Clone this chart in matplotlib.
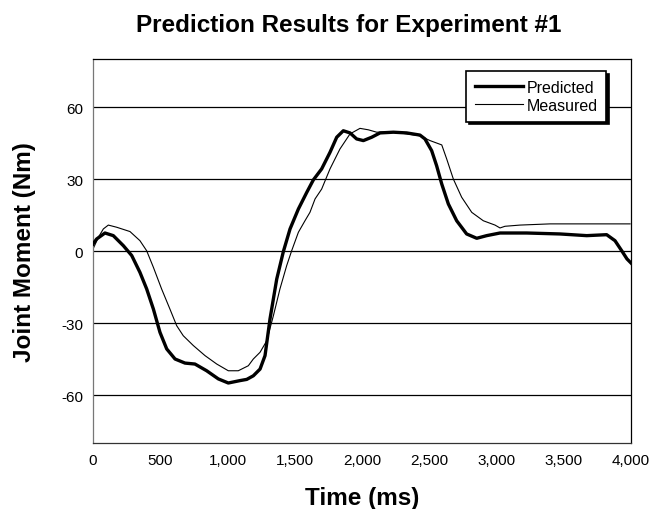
import matplotlib.pyplot as plt

# values
pred_t = [0, 27, 89, 151, 226, 288, 349, 399, 449, 498, 548, 610, 684, 758, 845,
          932, 1006, 1093, 1143, 1192, 1242, 1279, 1316, 1366, 1415, 1465, 1527,
          1589, 1638, 1700, 1762, 1812, 1861, 1911, 1960, 2010, 2072, 2134, 2233,
          2332, 2431, 2468, 2518, 2555, 2593, 2642, 2704, 2778, 2853, 2927, 3026,
          3224, 3472, 3671, 3819, 3881, 3931, 3970, 4000]
pred_v = [2.9, 5.0, 7.5, 6.4, 2.2, -1.9, -8.9, -15.8, -24.2, -33.9, -40.8, -45.0,
          -46.7, -47.1, -49.9, -53.3, -55.0, -54.0, -53.5, -52.0, -49.2, -43.6,
          -28.3, -11.7, -0.3, 9.2, 17.5, 24.4, 29.6, 34.2, 41.1, 47.4, 50.1, 49.2,
          46.7, 46.0, 47.4, 49.2, 49.5, 49.2, 48.3, 46.7, 41.8, 35.5, 27.9, 19.6,
          12.6, 7.1, 5.3, 6.4, 7.5, 7.5, 7.1, 6.4, 6.8, 4.3, 0.1, -3.3, -5.0]

meas_t = [0, 40, 77, 114, 176, 275, 349, 399, 449, 510, 572, 622, 671, 746, 833,
          920, 1006, 1080, 1155, 1192, 1242, 1291, 1341, 1390, 1440, 1477, 1527,
          1576, 1613, 1651, 1700, 1762, 1836, 1911, 1985, 2047, 2109, 2208, 2283,
          2431, 2506, 2593, 2630, 2679, 2741, 2816, 2902, 2989, 3026, 3063, 3175,
          3398, 3993]
meas_v = [0.8, 5.7, 9.2, 10.8, 9.9, 8.1, 4.3, 0.1, -6.8, -15.8, -24.2, -31.1,
          -35.3, -39.4, -43.6, -47.1, -49.9, -49.9, -47.8, -45.0, -42.2, -37.5,
          -27.0, -15.8, -6.1, 0.1, 7.8, 12.6, 16.1, 21.7, 25.8, 34.2, 42.5, 48.8,
          51.1, 50.5, 49.5, 49.7, 49.2, 48.0, 46.0, 44.2, 38.3, 30.0, 22.4, 16.1,
          12.6, 10.8, 9.6, 10.3, 10.8, 11.3, 11.3]

y_ticks = [-60, -30, 0, 30, 60]
x_ticks = [0, 500, 1000, 1500, 2000, 2500, 3000, 3500, 4000]
x_labels = ["0", "500", "1,000", "1,500", "2,000", "2,500", "3,000", "3,500", "4,000"]

plt.rcParams['font.family'] = ['Liberation Sans', 'DejaVu Sans']
plt.rcParams['axes.unicode_minus'] = False

fig = plt.figure(figsize=(6.5, 5.1), dpi=100)
ax = fig.add_axes([93 / 650, 1 - 444 / 510, 538 / 650, 384 / 510])

for v in y_ticks:
    ax.axhline(v, color='black', lw=0.9, zorder=1)

ax.plot(pred_t, pred_v, color='black', lw=2.4, label='Predicted', zorder=3,
        solid_joinstyle='round')
ax.plot(meas_t, meas_v, color='black', lw=0.8, label='Measured', zorder=2)

ax.set_xlim(0, 4000)
ax.set_ylim(-80, 80)
ax.set_xticks(x_ticks)
ax.set_xticklabels(x_labels)
ax.set_yticks(y_ticks)
ax.tick_params(length=0, labelsize=11, pad=7)
for s in ax.spines.values():
    s.set_linewidth(0.9)
ax.spines['left'].set_color('#777777')
ax.spines['bottom'].set_color('#333333')

ax.set_xlabel("Time (ms)", fontsize=17.5, fontweight='bold', labelpad=14)
ax.set_ylabel("Joint Moment (Nm)", fontsize=17.5, fontweight='bold', labelpad=18)
fig.text(349 / 650, 1 - 32 / 510, "Prediction Results for Experiment #1",
         fontsize=17.5, fontweight='bold', ha='center', va='baseline')

leg = ax.legend(loc='upper right', bbox_to_anchor=(0.954, 0.969), borderaxespad=0,
                fancybox=False, shadow={'color': 'black', 'alpha': 1},
                edgecolor='black', framealpha=1, fontsize=11.5, handlelength=3.0,
                borderpad=0.55, labelspacing=0.2, handletextpad=0.2)
leg.get_frame().set_linewidth(1.2)

plt.savefig("out.png", dpi=100)
